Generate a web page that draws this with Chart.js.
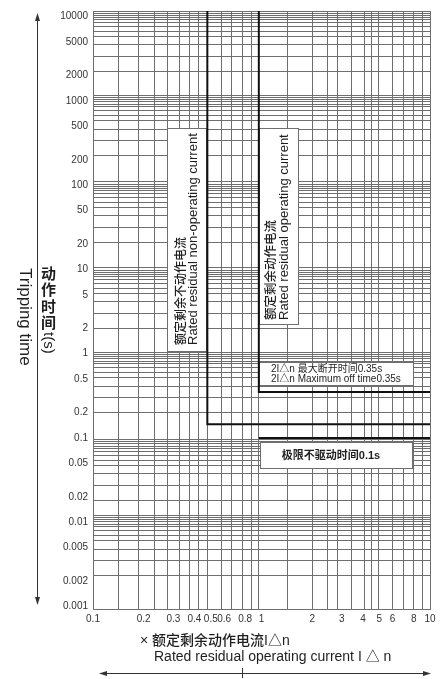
<!DOCTYPE html>
<html lang="zh">
<head>
<meta charset="utf-8">
<title>剩余电流动作特性</title>
<script src="https://cdn.jsdelivr.net/npm/chart.js@4.4.1/dist/chart.umd.min.js"></script>
<style>
html,body{margin:0;padding:0;background:#fff;overflow:hidden;}
#wrap{position:relative;width:440px;height:679px;}
canvas{display:block;}
</style>
</head>
<body>
<div id="wrap"><canvas id="chart" width="440" height="679"></canvas></div>
<script>
// Axis bounds (log scales)
const X_MIN = 0.1, X_MAX = 10;
const Y_MIN = 0.00093, Y_MAX = 11700;

// Residual current multiple (× IΔn) labels
const xTickValues = [0.1, 0.2, 0.3, 0.4, 0.5, 0.6, 0.8, 1, 2, 3, 4, 5, 6, 8, 10];
const xTickLabels = ['0.1', '0.2', '0.3', '0.4', '0.5', '0.6', '0.8', '1', '2', '3', '4', '5', '6', '8', '10'];

// Tripping time (s) labels
const yTickValues = [0.001, 0.002, 0.005, 0.01, 0.02, 0.05, 0.1, 0.2, 0.5, 1, 2, 5, 10, 20, 50, 100, 200, 500, 1000, 2000, 5000, 10000];
const yTickLabels = ['0.001', '0.002', '0.005', '0.01', '0.02', '0.05', '0.1', '0.2', '0.5', '1', '2', '5', '10', '20', '50', '100', '200', '500', '1000', '2000', '5000', '10000'];

// Graph-paper rulings
const xGridValues = [0.1, 0.142, 0.186, 0.233, 0.278, 0.328, 0.372, 0.424, 0.477, 0.575, 0.668, 0.776, 0.870, 0.964,
                     1.436, 1.994, 2.46, 2.81, 3.40, 4.06, 4.47, 4.93, 5.95, 6.98, 7.93, 9.08, 10];
const yGridDecadeTops = [11700, 1170, 110, 10.5, 1.04, 0.0955, 0.0121];
const yGridSteps = [1, 0.937, 0.887, 0.833, 0.782, 0.727, 0.652, 0.568, 0.496, 0.395, 0.287, 0.191];

// Characteristic boundaries
const nonOperatingX = [0.477, 0.477, 10];
const nonOperatingY = [Y_MAX, 0.145, 0.145];
const operatingX = [0.964, 0.964, 10];
const operatingY = [Y_MAX, 0.35, 0.35];
const noDriveX = [0.964, 10];
const noDriveY = [0.1, 0.1];

const GRID = '#6e6e6e';
const INK = '#1e1e1e';
const LATIN = "'Liberation Sans', Arial, 'Noto Sans CJK SC', sans-serif";
const CJK = "'Liberation Sans', 'Noto Sans CJK SC', sans-serif";

const yGridValues = yGridDecadeTops.flatMap(top => yGridSteps.map(s => top * s))
  .filter(v => v >= Y_MIN && v <= Y_MAX);

function mergeTicks(gridVals, labelVals, labelTexts) {
  const map = new Map();
  gridVals.forEach(v => map.set(v, { value: v, isGrid: true, text: '' }));
  labelVals.forEach((v, i) => {
    const t = map.get(v) || { value: v, isGrid: false, text: '' };
    t.text = labelTexts[i];
    map.set(v, t);
  });
  return [...map.values()].sort((a, b) => a.value - b.value);
}

function toPoints(xs, ys) { return xs.map((x, i) => ({ x, y: ys[i] })); }

function lineSet(label, xs, ys) {
  return { label, data: toPoints(xs, ys), borderColor: '#111', borderWidth: 2, pointRadius: 0, fill: false, tension: 0 };
}

function whiteBox(ctx, x, y, w, h) {
  ctx.fillStyle = '#fff';
  ctx.fillRect(x, y, w, h);
  ctx.strokeStyle = GRID;
  ctx.lineWidth = 1;
  ctx.strokeRect(x + 0.5, y + 0.5, w - 1, h - 1);
}

function upText(ctx, str, x, y, font) {
  ctx.save();
  ctx.translate(x, y);
  ctx.rotate(-Math.PI / 2);
  ctx.font = font;
  ctx.textAlign = 'left';
  ctx.textBaseline = 'middle';
  ctx.fillText(str, 0, 0);
  ctx.restore();
}

function downText(ctx, str, x, y, font) {
  ctx.save();
  ctx.translate(x, y);
  ctx.rotate(Math.PI / 2);
  ctx.font = font;
  ctx.textAlign = 'left';
  ctx.textBaseline = 'middle';
  ctx.fillText(str, 0, 0);
  ctx.restore();
}

function arrowHead(ctx, tipX, tipY, dx, dy) {
  // dx,dy: unit direction the arrow points to
  const len = 8, half = 2.5;
  const bx = tipX - dx * len, by = tipY - dy * len;
  ctx.beginPath();
  ctx.moveTo(tipX, tipY);
  ctx.lineTo(bx - dy * half, by + dx * half);
  ctx.lineTo(bx + dy * half, by - dx * half);
  ctx.closePath();
  ctx.fill();
}

// Callout boxes, axis titles and arrows
const overlay = {
  id: 'overlay',
  beforeDatasetsDraw(chart) {
    const ctx = chart.ctx;
    ctx.save();

    whiteBox(ctx, 167, 128, 40, 224);
    whiteBox(ctx, 259, 128, 40, 197);
    whiteBox(ctx, 259, 362, 155, 24);
    whiteBox(ctx, 260, 442, 153, 27);

    ctx.fillStyle = INK;
    upText(ctx, '额定剩余不动作电流', 181.5, 345, "500 12px " + CJK);
    upText(ctx, 'Rated residual non-operating current', 193.5, 345, "13px " + LATIN);
    upText(ctx, '额定剩余动作电流', 271.5, 320, "500 12.5px " + CJK);
    upText(ctx, 'Rated residual operating current', 284.5, 320, "13px " + LATIN);

    ctx.font = "10px " + CJK;
    ctx.textAlign = 'left';
    ctx.textBaseline = 'middle';
    ctx.fillText('2I△n 最大断开时间0.35s', 271, 369.5);
    ctx.fillText('2I△n Maximum off time0.35s', 271, 379.5);

    ctx.font = "bold 11px " + CJK;
    ctx.textAlign = 'center';
    ctx.fillText('极限不驱动时间0.1s', 331, 455.5);
    ctx.restore();
  },
  afterDraw(chart) {
    const ctx = chart.ctx;
    ctx.save();
    ctx.fillStyle = '#333';
    ctx.strokeStyle = '#333';
    ctx.lineWidth = 1;

    // vertical double arrow
    ctx.beginPath();
    ctx.moveTo(37.5, 18);
    ctx.lineTo(37.5, 600);
    ctx.stroke();
    arrowHead(ctx, 37.5, 13, 0, -1);
    arrowHead(ctx, 37.5, 605, 0, 1);

    // horizontal double arrow with tick
    ctx.beginPath();
    ctx.moveTo(104, 673.5);
    ctx.lineTo(426, 673.5);
    ctx.moveTo(242.5, 668);
    ctx.lineTo(242.5, 678);
    ctx.stroke();
    arrowHead(ctx, 99, 673.5, -1, 0);
    arrowHead(ctx, 431, 673.5, 1, 0);

    // y titles
    ctx.fillStyle = INK;
    downText(ctx, 'Tripping time', 25, 268, "17px " + LATIN);
    ctx.font = "bold 15px " + CJK;
    ctx.textAlign = 'center';
    ctx.textBaseline = 'middle';
    const chars = ['动', '作', '时', '间'];
    const ys = [275, 291, 307.5, 323.5];
    chars.forEach((c, i) => ctx.fillText(c, 48.5, ys[i]));
    downText(ctx, 't(s)', 48.5, 332, "15px " + LATIN);

    // x titles
    ctx.font = "500 14px " + CJK;
    ctx.textAlign = 'left';
    ctx.textBaseline = 'middle';
    ctx.fillText('× 额定剩余动作电流I△n', 140, 641);
    ctx.font = "14px " + LATIN;
    ctx.fillText('Rated residual operating current I △ n', 154, 657);
    ctx.restore();
  }
};

new Chart(document.getElementById('chart'), {
  type: 'line',
  data: {
    datasets: [
      lineSet('额定剩余不动作电流', nonOperatingX, nonOperatingY),
      lineSet('额定剩余动作电流', operatingX, operatingY),
      lineSet('极限不驱动时间', noDriveX, noDriveY)
    ]
  },
  options: {
    responsive: false,
    animation: false,
    devicePixelRatio: 1,
    layout: { padding: { top: 10, right: 10, left: 0, bottom: 0 } },
    plugins: { legend: { display: false }, tooltip: { enabled: false } },
    scales: {
      x: {
        type: 'logarithmic',
        position: 'bottom',
        min: X_MIN,
        max: X_MAX,
        afterBuildTicks(scale) { scale.ticks = mergeTicks(xGridValues, xTickValues, xTickLabels); },
        afterFit(scale) { scale.height = 70; },
        ticks: {
          autoSkip: false, maxRotation: 0, minRotation: 0, padding: 4,
          color: '#333', font: { family: LATIN, size: 10 },
          callback(v, i, ticks) { return ticks[i].text || ''; }
        },
        grid: {
          drawTicks: false, lineWidth: 1,
          color: c => (c.tick && c.tick.isGrid) ? GRID : 'rgba(0,0,0,0)'
        },
        border: { display: true, color: GRID, width: 1 }
      },
      y: {
        type: 'logarithmic',
        position: 'left',
        min: Y_MIN,
        max: Y_MAX,
        afterBuildTicks(scale) { scale.ticks = mergeTicks(yGridValues, yTickValues, yTickLabels); },
        afterFit(scale) { scale.width = 93; },
        ticks: {
          autoSkip: false, padding: 5,
          color: '#333', font: { family: LATIN, size: 10 },
          callback(v, i, ticks) { return ticks[i].text || ''; }
        },
        grid: {
          drawTicks: false, lineWidth: 1,
          color: c => (c.tick && c.tick.isGrid) ? GRID : 'rgba(0,0,0,0)'
        },
        border: { display: true, color: GRID, width: 1 }
      }
    }
  },
  plugins: [overlay]
});
</script>
</body>
</html>
